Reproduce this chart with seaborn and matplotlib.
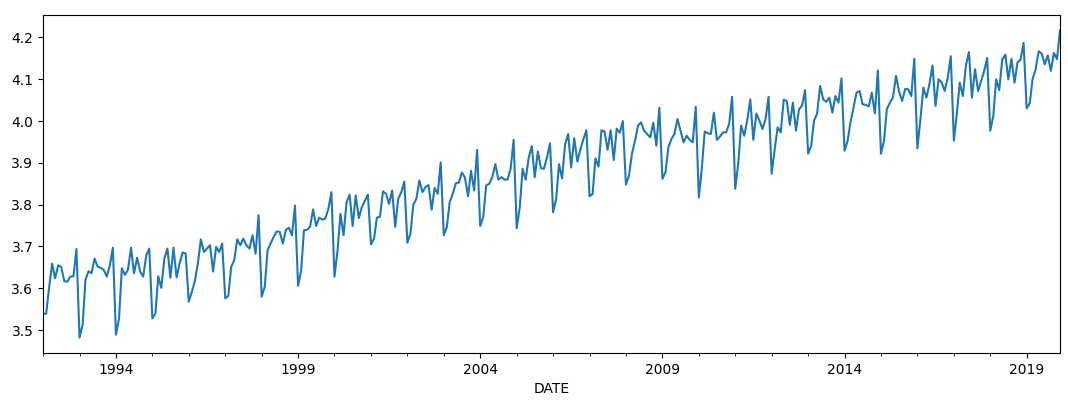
import numpy as np
import pandas as pd
import matplotlib
matplotlib.use("Agg")
import matplotlib.pyplot as plt
import matplotlib.dates as mdates
import seaborn as sns

y1992 = [3.539, 3.539, 3.600, 3.659, 3.624, 3.655, 3.651, 3.617, 3.616, 3.628, 3.629, 3.694]
y1993 = [3.482, 3.513, 3.620, 3.641, 3.636, 3.671, 3.652, 3.649, 3.644, 3.628, 3.655, 3.697]
y1994 = [3.489, 3.528, 3.648, 3.632, 3.644, 3.697, 3.636, 3.673, 3.640, 3.628, 3.679, 3.695]
y1995 = [3.528, 3.540, 3.629, 3.601, 3.671, 3.695, 3.625, 3.697, 3.626, 3.659, 3.686, 3.683]
y1996 = [3.568, 3.592, 3.616, 3.659, 3.717, 3.687, 3.695, 3.703, 3.640, 3.699, 3.687, 3.707]
y1997 = [3.576, 3.582, 3.651, 3.667, 3.717, 3.703, 3.719, 3.703, 3.695, 3.727, 3.683, 3.775]
y1998 = [3.580, 3.604, 3.691, 3.707, 3.723, 3.736, 3.735, 3.707, 3.740, 3.745, 3.727, 3.798]
y1999 = [3.606, 3.643, 3.739, 3.740, 3.747, 3.789, 3.749, 3.769, 3.764, 3.767, 3.790, 3.830]
y2000 = [3.628, 3.691, 3.778, 3.727, 3.806, 3.824, 3.749, 3.822, 3.768, 3.794, 3.809, 3.824]
y2001 = [3.705, 3.719, 3.769, 3.771, 3.832, 3.826, 3.802, 3.834, 3.747, 3.814, 3.830, 3.855]
y2002 = [3.709, 3.731, 3.800, 3.814, 3.858, 3.830, 3.842, 3.847, 3.788, 3.840, 3.826, 3.901]
y2003 = [3.727, 3.747, 3.806, 3.826, 3.851, 3.853, 3.877, 3.865, 3.820, 3.881, 3.834, 3.931]
y2004 = [3.749, 3.771, 3.846, 3.850, 3.866, 3.897, 3.860, 3.866, 3.860, 3.860, 3.886, 3.955]
y2005 = [3.744, 3.794, 3.886, 3.860, 3.912, 3.940, 3.866, 3.927, 3.887, 3.886, 3.913, 3.947]
y2006 = [3.782, 3.814, 3.897, 3.863, 3.944, 3.969, 3.889, 3.959, 3.903, 3.932, 3.957, 3.978]
y2007 = [3.820, 3.826, 3.911, 3.891, 3.978, 3.975, 3.931, 3.978, 3.907, 3.982, 3.972, 4.000]
y2008 = [3.848, 3.870, 3.921, 3.953, 3.989, 3.997, 3.977, 3.969, 3.961, 3.996, 3.941, 4.032]
y2009 = [3.862, 3.878, 3.937, 3.957, 3.969, 4.005, 3.977, 3.949, 3.965, 3.955, 3.949, 4.034]
y2010 = [3.817, 3.890, 3.975, 3.971, 3.969, 4.020, 3.955, 3.963, 3.973, 3.973, 3.993, 4.058]
y2011 = [3.838, 3.901, 3.989, 3.965, 4.001, 4.052, 3.955, 4.018, 4.001, 3.981, 4.005, 4.058]
y2012 = [3.874, 3.933, 3.985, 3.973, 4.051, 4.048, 3.991, 4.044, 3.977, 4.028, 4.037, 4.074]
y2013 = [3.922, 3.941, 4.001, 4.018, 4.084, 4.052, 4.046, 4.056, 4.020, 4.060, 4.044, 4.102]
y2014 = [3.929, 3.953, 3.997, 4.032, 4.068, 4.072, 4.040, 4.039, 4.035, 4.068, 4.018, 4.121]
y2015 = [3.922, 3.953, 4.029, 4.044, 4.056, 4.108, 4.072, 4.048, 4.077, 4.076, 4.060, 4.149]
y2016 = [3.935, 4.005, 4.080, 4.056, 4.088, 4.133, 4.036, 4.100, 4.092, 4.072, 4.104, 4.155]
y2017 = [3.953, 4.021, 4.092, 4.060, 4.132, 4.165, 4.056, 4.124, 4.072, 4.096, 4.120, 4.151]
y2018 = [3.977, 4.013, 4.100, 4.074, 4.147, 4.159, 4.100, 4.149, 4.092, 4.140, 4.147, 4.187]
y2019 = [4.030, 4.043, 4.100, 4.124, 4.167, 4.161, 4.136, 4.157, 4.120, 4.163, 4.148, 4.217]

tick_years = [1994, 1999, 2004, 2009, 2014, 2019]
x_label = "DATE"

values = (y1992 + y1993 + y1994 + y1995 + y1996 + y1997 + y1998 + y1999 + y2000 +
          y2001 + y2002 + y2003 + y2004 + y2005 + y2006 + y2007 + y2008 + y2009 +
          y2010 + y2011 + y2012 + y2013 + y2014 + y2015 + y2016 + y2017 + y2018 + y2019)
dates = pd.date_range("1992-01-01", periods=len(values), freq="MS")
df = pd.DataFrame({"DATE": dates, "value": values})

fig = plt.figure(figsize=(10.68, 4.05), dpi=100)
ax = fig.add_axes([0.0403, 0.1284, 0.9522, 0.8346])
sns.lineplot(data=df, x="DATE", y="value", ax=ax, color="#1f77b4", linewidth=1.5)

ax.set_xlim(dates[0], dates[-1])
ax.set_xticks([pd.Timestamp(f"{y}-01-01") for y in tick_years])
ax.xaxis.set_major_formatter(mdates.DateFormatter("%Y"))
ax.xaxis.set_minor_locator(mdates.YearLocator(1))
ax.set_xlabel(x_label, fontsize=10)
ax.set_ylabel("")
ax.tick_params(labelsize=10)

fig.savefig("out.png", dpi=100)
